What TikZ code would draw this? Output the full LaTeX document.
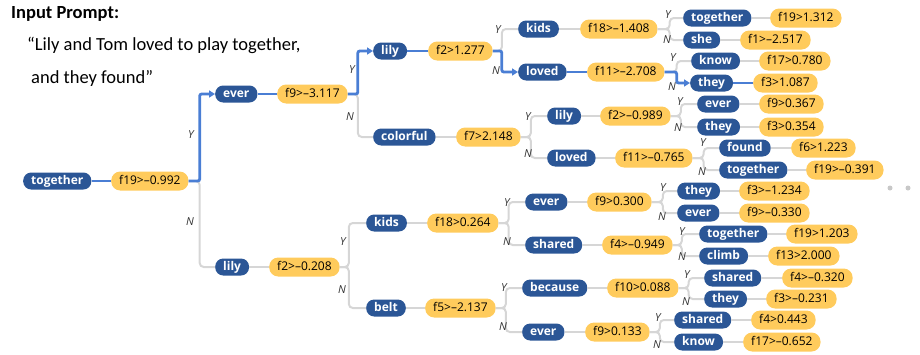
\documentclass[tikz,border=0pt]{standalone}
\usepackage{fontspec}
\setmainfont{Open Sans}
\newfontfamily\promptfont{Carlito}
\usetikzlibrary{arrows.meta}
\definecolor{wordblue}{RGB}{43,86,150}
\definecolor{condyel}{RGB}{255,203,92}
\definecolor{hlblue}{RGB}{74,126,212}
\definecolor{edgegrey}{RGB}{214,214,214}
\definecolor{dotgrey}{RGB}{200,200,200}
\begin{document}
\begin{tikzpicture}[x=1pt,y=-1pt,
  word/.style={fill=wordblue, text=white, font=\fontsize{12}{13}\selectfont\bfseries, rounded corners=8pt, minimum height=17pt, inner xsep=8pt, inner ysep=0pt, text height=8.3pt, text depth=2.3pt, anchor=west},
  cond/.style={fill=condyel, text=black, font=\fontsize{12}{13}\selectfont, rounded corners=9pt, minimum height=19pt, inner xsep=8pt, inner ysep=0pt, text height=8.3pt, text depth=2.3pt, anchor=west},
  gline/.style={draw=edgegrey, line width=2pt, rounded corners=4pt},
  bline/.style={draw=hlblue, line width=2.8pt, rounded corners=2pt},
  barrow/.style={bline, -{Triangle[length=6pt,width=7pt]}},
  yn/.style={font=\fontsize{11}{12}\selectfont\itshape, text=black!80, inner sep=0pt},
  prompt/.style={anchor=base west, inner sep=0pt},
  dot/.style={circle, fill=dotgrey, minimum size=5pt, inner sep=0pt},
]
\useasboundingbox (0,0) rectangle (920,354);

% prompt text
\node[prompt, font={\promptfont\fontsize{18.5}{22}\selectfont\bfseries}] (title) at (11,18) {Input Prompt:};
\node[prompt, font={\promptfont\fontsize{18.5}{22}\selectfont}] (line1) at (27,50) {“Lily and Tom loved to play together,};
\node[prompt, font={\promptfont\fontsize{18.5}{22}\selectfont}] (line2) at (31,83) {and they found”};

% word nodes
\node[word] (w0) at (23,181) {together};
\node[word] (w1) at (215,94) {ever};
\node[word] (w2) at (215,267) {lily};
\node[word] (w3) at (373,51) {lily};
\node[word] (w4) at (373,137) {colorful};
\node[word] (w5) at (366,223) {kids};
\node[word] (w6) at (366,308) {belt};
\node[word] (w7) at (518,29) {kids};
\node[word] (w8) at (518,72) {loved};
\node[word] (w9) at (547,116) {lily};
\node[word] (w10) at (547,158) {loved};
\node[word] (w11) at (525,202) {ever};
\node[word] (w12) at (525,245) {shared};
\node[word] (w13) at (522,288) {because};
\node[word] (w14) at (522,332) {ever};
\node[word] (w15) at (683,18) {together};
\node[word] (w16) at (683,40) {she};
\node[word] (w17) at (691,61) {know};
\node[word] (w18) at (690,83) {they};
\node[word] (w19) at (697,104) {ever};
\node[word] (w20) at (697,127) {they};
\node[word] (w21) at (719,148) {found};
\node[word] (w22) at (719,170) {together};
\node[word] (w23) at (677,191) {they};
\node[word] (w24) at (677,213) {ever};
\node[word] (w25) at (699,234) {together};
\node[word] (w26) at (699,256) {climb};
\node[word] (w27) at (704,278) {shared};
\node[word] (w28) at (704,299) {they};
\node[word] (w29) at (674,320) {shared};
\node[word] (w30) at (674,342) {know};

% condition nodes
\node[cond] (c0) at (111,181) {f19>–0.992};
\node[cond] (c1) at (277,94) {f9>–3.117};
\node[cond] (c2) at (269,267) {f2>–0.208};
\node[cond] (c3) at (428,51) {f2>1.277};
\node[cond] (c4) at (456,137) {f7>2.148};
\node[cond] (c5) at (427,223) {f18>0.264};
\node[cond] (c6) at (425,308) {f5>–2.137};
\node[cond] (c7) at (580,29) {f18>–1.408};
\node[cond] (c8) at (587,72) {f11>–2.708};
\node[cond] (c9) at (600,116) {f2>–0.989};
\node[cond] (c10) at (615,158) {f11>–0.765};
\node[cond] (c11) at (587,202) {f9>0.300};
\node[cond] (c12) at (602,245) {f4>–0.949};
\node[cond] (c13) at (607,288) {f10>0.088};
\node[cond] (c14) at (585,332) {f9>0.133};
\node[cond] (c15) at (770,18) {f19>1.312};
\node[cond] (c16) at (740,40) {f1>–2.517};
\node[cond] (c17) at (759,61) {f17>0.780};
\node[cond] (c18) at (753,83) {f3>1.087};
\node[cond] (c19) at (759,104) {f9>0.367};
\node[cond] (c20) at (759,127) {f3>0.354};
\node[cond] (c21) at (791,148) {f6>1.223};
\node[cond] (c22) at (806,170) {f19>–0.391};
\node[cond] (c23) at (739,191) {f3>–1.234};
\node[cond] (c24) at (739,213) {f9>–0.330};
\node[cond] (c25) at (786,234) {f19>1.203};
\node[cond] (c26) at (768,256) {f13>2.000};
\node[cond] (c27) at (782,278) {f4>–0.320};
\node[cond] (c28) at (766,299) {f3>–0.231};
\node[cond] (c29) at (751,320) {f4>0.443};
\node[cond] (c30) at (743,342) {f17>–0.652};

% word -> condition links (grey)
\foreach \i in {2,4,5,6,7,9,10,11,12,13,14,15,16,17,19,20,21,22,23,24,25,26,27,28,29,30}
  \draw[gline] (w\i.east) -- (c\i.west);

% split links (grey)
\draw[gline] (c0.east) -- ++(11,0) |- (w2.west);
\draw[gline] (c1.east) -- ++(10,0) |- (w4.west);
\draw[gline] (c2.east) -- ++(9,0) |- (w5.west);
\draw[gline] (c2.east) -- ++(9,0) |- (w6.west);
\draw[gline] (c3.east) -- ++(9,0) |- (w7.west);
\draw[gline] (c4.east) -- ++(10,0) |- (w9.west);
\draw[gline] (c4.east) -- ++(10,0) |- (w10.west);
\draw[gline] (c5.east) -- ++(10,0) |- (w11.west);
\draw[gline] (c5.east) -- ++(10,0) |- (w12.west);
\draw[gline] (c6.east) -- ++(10,0) |- (w13.west);
\draw[gline] (c6.east) -- ++(10,0) |- (w14.west);
\draw[gline] (c7.east) -- ++(12,0) |- (w15.west);
\draw[gline] (c7.east) -- ++(12,0) |- (w16.west);
\draw[gline] (c8.east) -- ++(12,0) |- (w17.west);
\draw[gline] (c9.east) -- ++(10,0) |- (w19.west);
\draw[gline] (c9.east) -- ++(10,0) |- (w20.west);
\draw[gline] (c10.east) -- ++(11,0) |- (w21.west);
\draw[gline] (c10.east) -- ++(11,0) |- (w22.west);
\draw[gline] (c11.east) -- ++(11,0) |- (w23.west);
\draw[gline] (c11.east) -- ++(11,0) |- (w24.west);
\draw[gline] (c12.east) -- ++(9,0) |- (w25.west);
\draw[gline] (c12.east) -- ++(9,0) |- (w26.west);
\draw[gline] (c13.east) -- ++(10,0) |- (w27.west);
\draw[gline] (c13.east) -- ++(10,0) |- (w28.west);
\draw[gline] (c14.east) -- ++(10,0) |- (w29.west);
\draw[gline] (c14.east) -- ++(10,0) |- (w30.west);

% highlighted path (blue)
\draw[bline] (w0.east) -- (c0.west);
\draw[barrow] (c0.east) -- ++(11,0) |- (w1.west);
\draw[bline] (w1.east) -- (c1.west);
\draw[barrow] (c1.east) -- ++(10,0) |- (w3.west);
\draw[bline] (w3.east) -- (c3.west);
\draw[barrow] (c3.east) -- ++(9,0) |- (w8.west);
\draw[bline] (w8.east) -- (c8.west);
\draw[barrow] (c8.east) -- ++(12,0) |- (w18.west);
\draw[bline] (w18.east) -- (c18.west);

% Y / N labels
\node[yn] (y0) at (191,135) {Y};   \node[yn] (n0) at (190,222) {N};
\node[yn] (y1) at (352,70) {Y};    \node[yn] (n1) at (350,117) {N};
\node[yn] (y2) at (343,242) {Y};   \node[yn] (n2) at (342,290) {N};
\node[yn] (y3) at (498,30) {Y};    \node[yn] (n3) at (496,71) {N};
\node[yn] (y4) at (528,117) {Y};   \node[yn] (n4) at (528,154) {N};
\node[yn] (y5) at (507,203) {Y};   \node[yn] (n5) at (507,242) {N};
\node[yn] (y6) at (504,288) {Y};   \node[yn] (n6) at (503,327) {N};
\node[yn] (y7) at (668,15) {Y};    \node[yn] (n7) at (667,40) {N};
\node[yn] (y8) at (673,58) {Y};    \node[yn] (n8) at (672,87) {N};
\node[yn] (y9) at (680,102) {Y};   \node[yn] (n9) at (678,128) {N};
\node[yn] (y10) at (703,143) {Y};  \node[yn] (n10) at (702,172) {N};
\node[yn] (y11) at (663,188) {Y};  \node[yn] (n11) at (662,217) {N};
\node[yn] (y12) at (682,232) {Y};  \node[yn] (n12) at (682,257) {N};
\node[yn] (y13) at (687,275) {Y};  \node[yn] (n13) at (686,302) {N};
\node[yn] (y14) at (658,318) {Y};  \node[yn] (n14) at (657,345) {N};

% dots
\node[dot] (d1) at (890,188) {};
\node[dot] (d2) at (908,188) {};
\end{tikzpicture}
\end{document}
